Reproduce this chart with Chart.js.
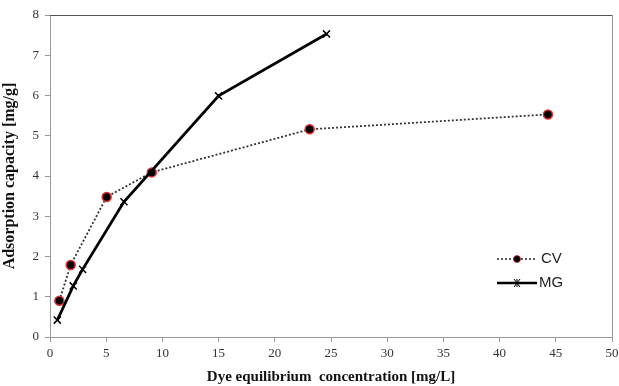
<!DOCTYPE html>
<html>
<head>
<meta charset="utf-8">
<script src="https://cdn.jsdelivr.net/npm/chart.js@4"></script>
<style>
  html, body { margin: 0; padding: 0; background: #fff; }
  #wrap { width: 619px; height: 386px; }
</style>
</head>
<body>
<div id="wrap"><canvas id="isoChart" width="619" height="386"></canvas></div>
<script>
// values
const cvX = [0.83, 1.84, 5.04, 9.05, 23.1, 44.3];
const cvY = [0.9, 1.79, 3.48, 4.09, 5.16, 5.53];
const mgX = [0.65, 2.07, 2.9, 6.58, 15.0, 24.6];
const mgY = [0.42, 1.27, 1.68, 3.36, 5.99, 7.53];
const xTicks = [0, 5, 10, 15, 20, 25, 30, 35, 40, 45, 50];
const yTicks = [0, 1, 2, 3, 4, 5, 6, 7, 8];

const toPts = (xs, ys) => xs.map((x, i) => ({ x: x, y: ys[i] }));

// frame round the plot area + legend box inside it
const framePlugin = {
  id: 'frame',
  afterDraw(chart) {
    const { ctx, chartArea: a } = chart;
    ctx.save();
    ctx.strokeStyle = '#999';
    ctx.lineWidth = 1;
    ctx.beginPath();
    ctx.moveTo(a.right + 0.5, a.top);
    ctx.lineTo(a.right + 0.5, a.bottom);
    ctx.stroke();
    ctx.strokeStyle = '#555';
    ctx.beginPath();
    ctx.moveTo(a.left, a.top + 0.5);
    ctx.lineTo(a.right, a.top + 0.5);
    ctx.stroke();

    // legend
    const lx = 497, ly = 259;
    ctx.font = '15px "Liberation Sans", Arial, sans-serif';
    ctx.fillStyle = '#222';
    ctx.textBaseline = 'middle';
    // CV
    ctx.strokeStyle = '#222';
    ctx.lineWidth = 1.5;
    ctx.setLineDash([2, 2]);
    ctx.beginPath();
    ctx.moveTo(lx, ly); ctx.lineTo(lx + 40, ly);
    ctx.stroke();
    ctx.setLineDash([]);
    ctx.beginPath();
    ctx.arc(lx + 20, ly, 3.5, 0, Math.PI * 2);
    ctx.fillStyle = '#000';
    ctx.fill();
    ctx.strokeStyle = '#c33';
    ctx.lineWidth = 0.8;
    ctx.stroke();
    ctx.fillStyle = '#222';
    ctx.fillText('CV', lx + 44, ly);
    // MG
    const my = ly + 24;
    ctx.strokeStyle = '#000';
    ctx.lineWidth = 2.5;
    ctx.beginPath();
    ctx.moveTo(lx, my); ctx.lineTo(lx + 40, my);
    ctx.stroke();
    ctx.lineWidth = 1;
    ctx.beginPath();
    ctx.moveTo(lx + 17, my - 4); ctx.lineTo(lx + 23, my + 4);
    ctx.moveTo(lx + 23, my - 4); ctx.lineTo(lx + 17, my + 4);
    ctx.moveTo(lx + 20, my - 4); ctx.lineTo(lx + 20, my + 4);
    ctx.stroke();
    ctx.fillText('MG', lx + 42, my);
    ctx.restore();
  }
};

const serif = '"Liberation Serif", "Times New Roman", serif';

new Chart(document.getElementById('isoChart'), {
  type: 'scatter',
  data: {
    datasets: [
      {
        label: 'CV',
        data: toPts(cvX, cvY),
        showLine: true,
        borderColor: '#333',
        borderWidth: 1.8,
        borderDash: [2, 2],
        pointStyle: 'circle',
        pointRadius: 4.5,
        pointBackgroundColor: '#000',
        pointBorderColor: '#e03030',
        pointBorderWidth: 1.5,
        order: 2
      },
      {
        label: 'MG',
        data: toPts(mgX, mgY),
        showLine: true,
        borderColor: '#000',
        borderWidth: 2.8,
        pointStyle: 'crossRot',
        pointRadius: 5,
        pointBorderColor: '#000',
        pointBorderWidth: 1.5,
        order: 1
      }
    ]
  },
  options: {
    responsive: false,
    animation: false,
    layout: { padding: { left: 0, right: 7, top: 15, bottom: 0 } },
    plugins: {
      legend: { display: false },
      tooltip: { enabled: false }
    },
    scales: {
      x: {
        type: 'linear',
        min: 0, max: 50,
        afterBuildTicks: (s) => { s.ticks = xTicks.map(v => ({ value: v })); },
        afterFit: (s) => { s.height = 49; s.paddingLeft = 0; s.paddingRight = 0; },
        grid: { drawOnChartArea: false, tickLength: 5, color: '#999' },
        border: { color: '#999' },
        ticks: { color: '#333', font: { family: serif, size: 13 }, padding: 4, maxRotation: 0 },
        title: {
          display: true,
          text: 'Dye equilibrium  concentration [mg/L]',
          color: '#111',
          font: { family: serif, size: 15, weight: 'bold' },
          padding: { top: 4, bottom: 0 }
        }
      },
      y: {
        min: 0, max: 8,
        afterBuildTicks: (s) => { s.ticks = yTicks.map(v => ({ value: v })); },
        afterFit: (s) => { s.width = 50; s.paddingTop = 0; s.paddingBottom = 0; },
        grid: { drawOnChartArea: false, tickLength: 5, color: '#999' },
        border: { color: '#999' },
        ticks: { color: '#333', font: { family: serif, size: 13 }, padding: 6 },
        title: {
          display: true,
          text: 'Adsorption capacity [mg/g]',
          color: '#111',
          font: { family: serif, size: 16, weight: 'bold' },
          padding: { top: 0, bottom: 2 }
        }
      }
    }
  },
  plugins: [framePlugin]
});
</script>
</body>
</html>
